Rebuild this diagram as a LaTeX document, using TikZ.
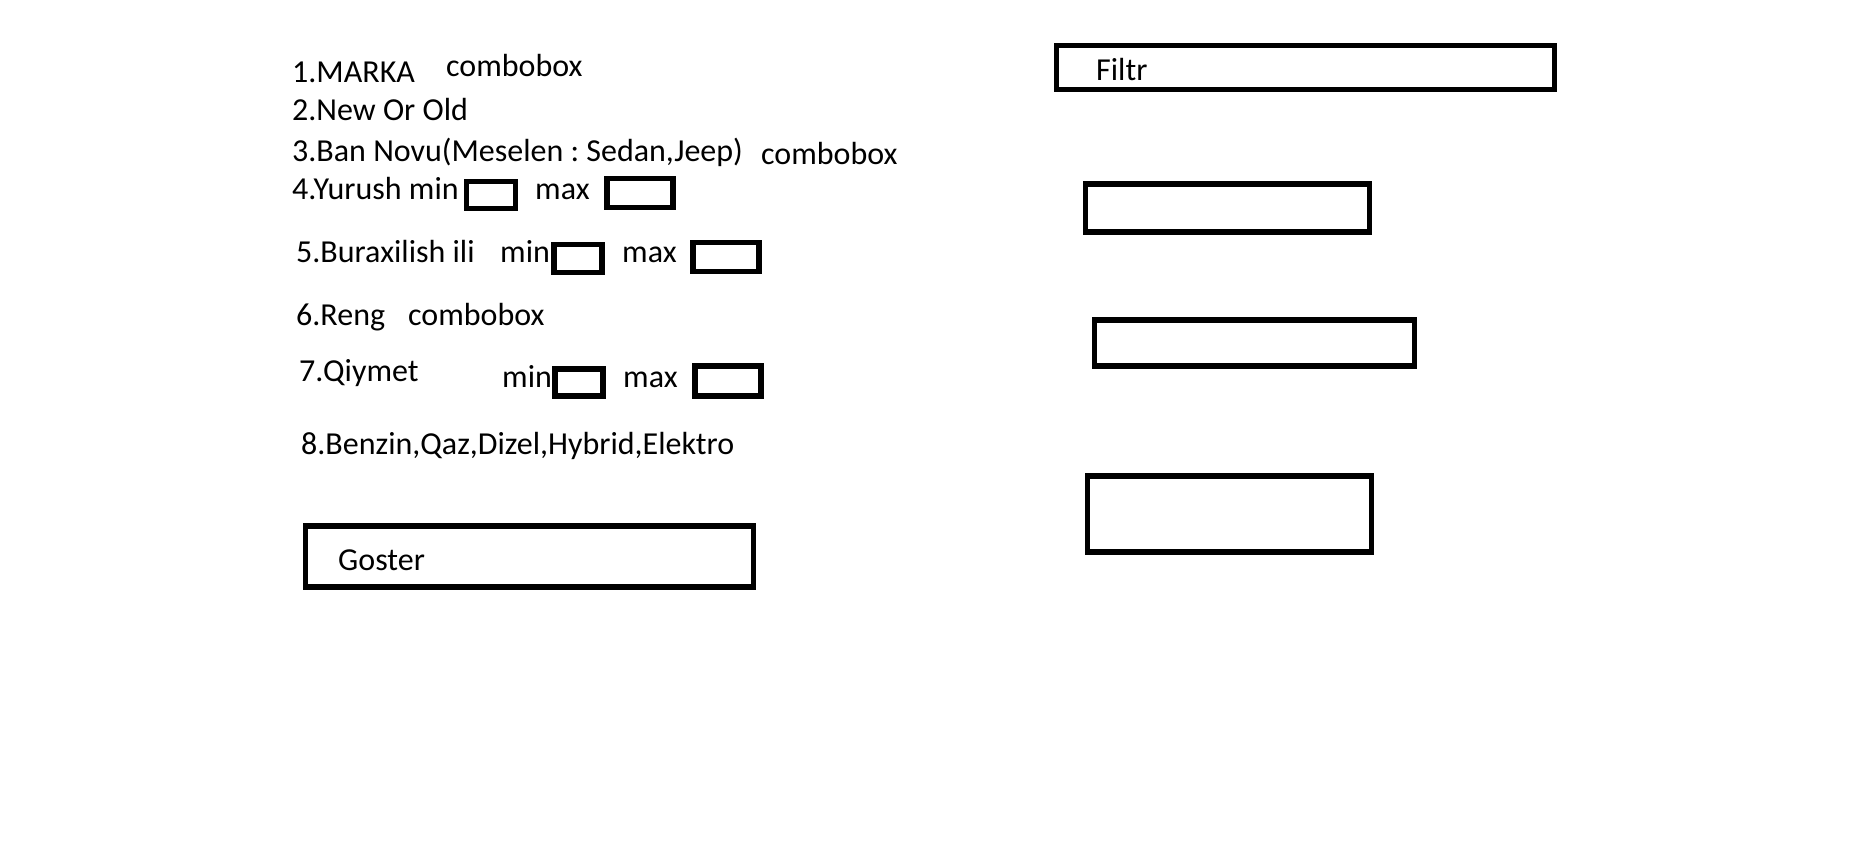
\documentclass[tikz,border=0pt]{standalone}
\usepackage{fontspec}
\setmainfont{Carlito}
\frenchspacing
\begin{document}
\begin{tikzpicture}[x=1pt,y=-1pt,
  lbl/.style={anchor=base west,inner sep=0pt,font=\fontsize{32}{38}\selectfont},
  frame/.style={draw=black,line width=5.5pt,inner sep=0pt,rectangle}]
\fill[white] (0,0) rectangle (1872,844);
\useasboundingbox (0,0) rectangle (1872,844);
% left column labels
\node[lbl] (t1) at (292,82) {1.MARKA};
\node[lbl] (c1) at (446,76) {combobox};
\node[lbl] (t2) at (292,120) {2.New Or Old};
\node[lbl] (t3) at (292,161) {3.Ban Novu(Meselen : Sedan,Jeep)};
\node[lbl] (c3) at (761,164) {combobox};
\node[lbl] (t4) at (292,199) {4.Yurush min};
\node[frame,minimum width=49,minimum height=27] (b4a) at (491,195) {};
\node[lbl] (m4) at (535,199) {max};
\node[frame,minimum width=66,minimum height=29] (b4b) at (640,193) {};
\node[lbl] (t5) at (296,262) {5.Buraxilish ili};
\node[lbl] (n5) at (500,262) {min};
\node[frame,minimum width=48,minimum height=28] (b5a) at (578,258.5) {};
\node[lbl] (m5) at (622,262) {max};
\node[frame,minimum width=66,minimum height=29] (b5b) at (726,257) {};
\node[lbl] (t6) at (296,325) {6.Reng};
\node[lbl] (c6) at (408,325) {combobox};
\node[lbl] (t7) at (299,381) {7.Qiymet};
\node[lbl] (n7) at (502,387) {min};
\node[frame,minimum width=48,minimum height=27] (b7a) at (579,382.5) {};
\node[lbl] (m7) at (623,387) {max};
\node[frame,minimum width=66,minimum height=30] (b7b) at (728,381) {};
\node[lbl] (t8) at (301,454) {8.Benzin,Qaz,Dizel,Hybrid,Elektro};
% Goster button
\node[frame,minimum width=448,minimum height=61] (gos) at (529.5,556.5) {};
\node[lbl] (gost) at (338,570) {Goster};
% right column
\node[frame,minimum width=498,minimum height=44] (fil) at (1305.5,67.5) {};
\node[lbl] (filt) at (1096,80) {Filtr};
\node[frame,minimum width=284,minimum height=48] (ra) at (1227.5,208) {};
\node[frame,minimum width=320,minimum height=46] (rb) at (1254.5,343) {};
\node[frame,minimum width=284,minimum height=76] (rc) at (1229.5,514) {};
\end{tikzpicture}
\end{document}
